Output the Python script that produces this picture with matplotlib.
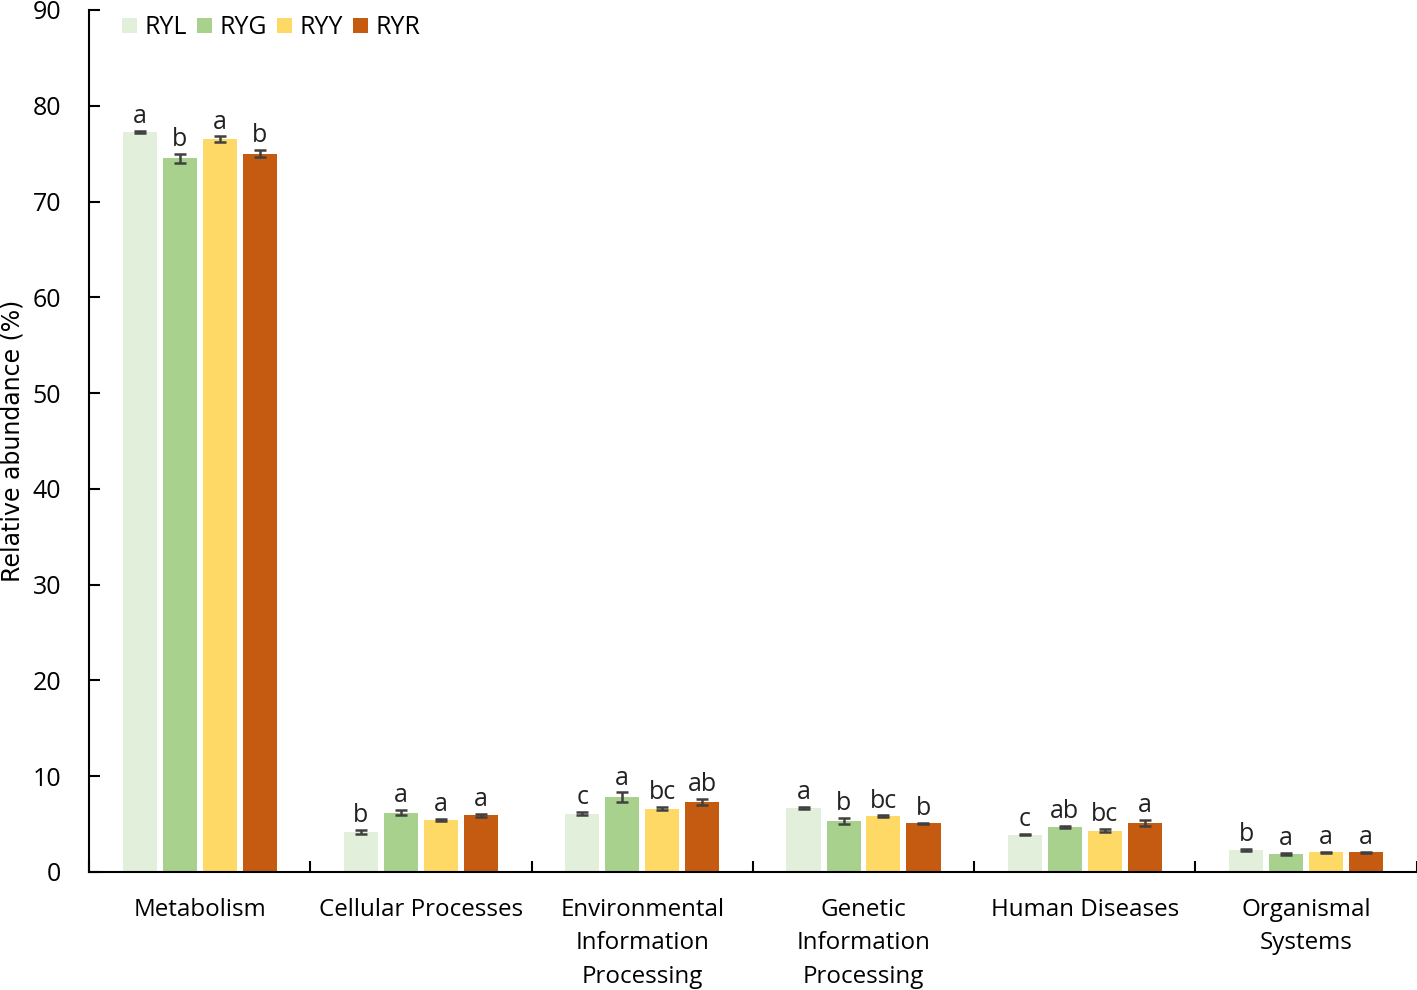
import numpy as np
import matplotlib.pyplot as plt

plt.rcParams['font.family'] = ['Open Sans', 'DejaVu Sans']

# data
categories = ['Metabolism', 'Cellular Processes', 'Environmental\nInformation\nProcessing',
              'Genetic\nInformation\nProcessing', 'Human Diseases', 'Organismal\nSystems']
groups = ['RYL', 'RYG', 'RYY', 'RYR']
means = {
    'RYL': [77.3, 4.2, 6.1, 6.7, 3.9, 2.3],
    'RYG': [74.5, 6.2, 7.8, 5.3, 4.7, 1.9],
    'RYY': [76.5, 5.4, 6.6, 5.8, 4.3, 2.05],
    'RYR': [75.0, 5.9, 7.3, 5.1, 5.1, 2.05],
}
errs = {
    'RYL': [0.1, 0.2, 0.2, 0.1, 0.05, 0.1],
    'RYG': [0.5, 0.3, 0.5, 0.3, 0.15, 0.1],
    'RYY': [0.3, 0.1, 0.15, 0.1, 0.15, 0.08],
    'RYR': [0.4, 0.15, 0.3, 0.05, 0.3, 0.08],
}
letters = {
    'RYL': ['a', 'b', 'c', 'a', 'c', 'b'],
    'RYG': ['b', 'a', 'a', 'b', 'ab', 'a'],
    'RYY': ['a', 'a', 'bc', 'bc', 'bc', 'a'],
    'RYR': ['b', 'a', 'ab', 'b', 'a', 'a'],
}
colors = ['#E2EFDA', '#A9D18E', '#FFD966', '#C55A11']

fig = plt.figure(figsize=(14.17, 9.9), dpi=100)
ax = fig.add_axes([0.0628, 0.1192, 0.937, 0.8707])

x = np.arange(len(categories))
offsets = [-0.271, -0.09, 0.09, 0.271]
w = 0.154
for g, c, off in zip(groups, colors, offsets):
    ax.bar(x + off, means[g], w, color=c, label=g, zorder=2)
    ax.errorbar(x + off, means[g], yerr=errs[g], fmt='none', ecolor='#404040',
                elinewidth=1.8, capsize=4, capthick=1.8, zorder=3)
    for xi, m, e, t in zip(x + off, means[g], errs[g], letters[g]):
        ax.text(xi, m + e + 0.2, t, ha='center', va='bottom', fontsize=18, color='#222222')

ax.set_xlim(-0.5, len(categories) - 0.5)
ax.set_ylim(0, 90)
ax.set_yticks(np.arange(0, 91, 10))
ax.set_xticks(np.arange(-0.5, len(categories), 1))
ax.set_xticklabels([])
ax.set_xticks(x, minor=True)
ax.set_xticklabels(categories, minor=True, fontsize=17.4, linespacing=1.53, va='top')
ax.tick_params(axis='x', which='minor', length=0, pad=18.5)
ax.tick_params(axis='x', which='major', direction='in', length=8, width=1.5)
ax.tick_params(axis='y', direction='in', length=8, width=1.5, labelsize=18, pad=20)
for s in ['top', 'right']:
    ax.spines[s].set_visible(False)
for s in ['left', 'bottom']:
    ax.spines[s].set_linewidth(1.5)

ax.set_ylabel('Relative abundance (%)', fontsize=17,
              family=['Liberation Sans Narrow', 'DejaVu Sans'], labelpad=6)

ax.legend(loc='upper left', ncol=4, frameon=False, fontsize=18, bbox_to_anchor=(0.008, 1.02),
          handlelength=0.6, handleheight=0.6, handletextpad=0.3, columnspacing=0.4)

fig.savefig('out.png', dpi=100)
